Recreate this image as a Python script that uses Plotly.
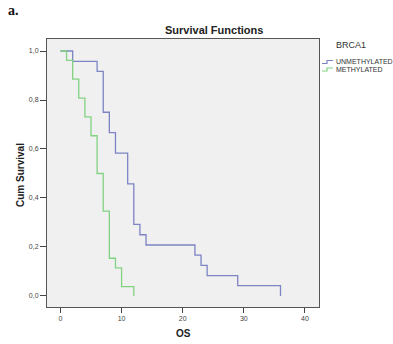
import plotly.graph_objects as go

# Kaplan-Meier step data (time in OS units, cumulative survival)
unmeth_time = [0, 2, 6, 7, 8, 9, 11, 12, 13, 14, 22, 23, 24, 29, 36]
unmeth_surv = [1.0, 0.958, 0.917, 0.75, 0.667, 0.583, 0.458, 0.292, 0.25, 0.208,
               0.167, 0.125, 0.083, 0.042, 0.0]
meth_time = [0, 1, 2, 3, 4, 5, 6, 7, 8, 9, 10, 12]
meth_surv = [1.0, 0.962, 0.885, 0.808, 0.731, 0.654, 0.5, 0.346, 0.154, 0.115, 0.038, 0.0]

y_ticks = [0.0, 0.2, 0.4, 0.6, 0.8, 1.0]
y_ticklabels = ["0,0", "0,2", "0,4", "0,6", "0,8", "1,0"]
x_ticks = [0, 10, 20, 30, 40]
x_ticklabels = ["0", "10", "20", "30", "40"]

BLUE = "#7c84c4"
GREEN = "#82d282"
FONT = "Liberation Sans, Arial, sans-serif"

fig = go.Figure()
fig.add_trace(go.Scatter(x=unmeth_time, y=unmeth_surv, mode="lines", line_shape="hv",
                         line=dict(color=BLUE, width=1.3), name="UNMETHYLATED",
                         showlegend=False))
fig.add_trace(go.Scatter(x=meth_time, y=meth_surv, mode="lines", line_shape="hv",
                         line=dict(color=GREEN, width=1.3), name="METHYLATED",
                         showlegend=False))

W, H = 393, 344
L, R, T, B = 47, 319, 39, 307
pw, ph = R - L, B - T

fig.update_layout(
    width=W, height=H,
    margin=dict(l=L, r=W - R, t=T, b=H - B, pad=0, autoexpand=False),
    paper_bgcolor="white",
    plot_bgcolor="#f0f0f0",
    font=dict(family=FONT, size=7, color="#333333"),
    xaxis=dict(range=[-2.2, 42.3], tickvals=x_ticks, ticktext=x_ticklabels,
               ticks="outside", ticklen=5, tickwidth=1, tickcolor="#444444",
               showgrid=False, zeroline=False, showline=True, linecolor="#555555",
               linewidth=1, mirror=True, automargin=False,
               tickfont=dict(size=7, color="#444444")),
    yaxis=dict(range=[-0.045, 1.049], tickvals=y_ticks, ticktext=y_ticklabels,
               ticks="outside", ticklen=6, tickwidth=1, tickcolor="#444444",
               showgrid=False, zeroline=False, showline=True, linecolor="#555555",
               linewidth=1, mirror=True, automargin=False,
               tickfont=dict(size=7, color="#444444")),
    showlegend=False,
)

def ax(px):
    return (px - L) / pw

def ay(py):
    return (B - py) / ph

def note(text, x, y, size, anchor="center", family=FONT, color="#333333", angle=0):
    return dict(text=text, x=ax(x), y=ay(y), xref="paper", yref="paper",
                xanchor=anchor, yanchor="middle", showarrow=False, textangle=angle,
                font=dict(family=family, size=size, color=color))

annotations = [
    note("<b>a.</b>", 6, 11, 14, "left", "Liberation Serif, Times New Roman, serif", "#111111"),
    note("<b>Survival Functions</b>", 214, 30, 11, color="#222222"),
    note("<b>Cum Survival</b>", 20, 175, 10, color="#222222", angle=-90),
    note("<b>OS</b>", 183, 333, 10, color="#222222"),
    note("BRCA1", 351, 45, 9),
    note("UNMETHYLATED", 334, 62, 7, "left"),
    note("METHYLATED", 334, 69.5, 7, "left"),
]
fig.update_layout(annotations=annotations)

def legend_icon(y0, color):
    x0, x1, x2 = 322, 327, 333
    yl, yh = y0 + 1.5, y0 - 1.5
    pts = [(x0, yl), (x1, yl), (x1, yh), (x2, yh)]
    path = "M " + " L ".join(f"{ax(x):.5f},{ay(y):.5f}" for x, y in pts)
    return dict(type="path", path=path, xref="paper", yref="paper",
                line=dict(color=color, width=1.2))

fig.update_layout(shapes=[legend_icon(62, BLUE), legend_icon(69.5, GREEN)])

fig.write_html("out.html",
               config={"displayModeBar": False, "staticPlot": True},
               post_script="document.body.style.margin='0px';document.body.style.overflow='hidden';")
